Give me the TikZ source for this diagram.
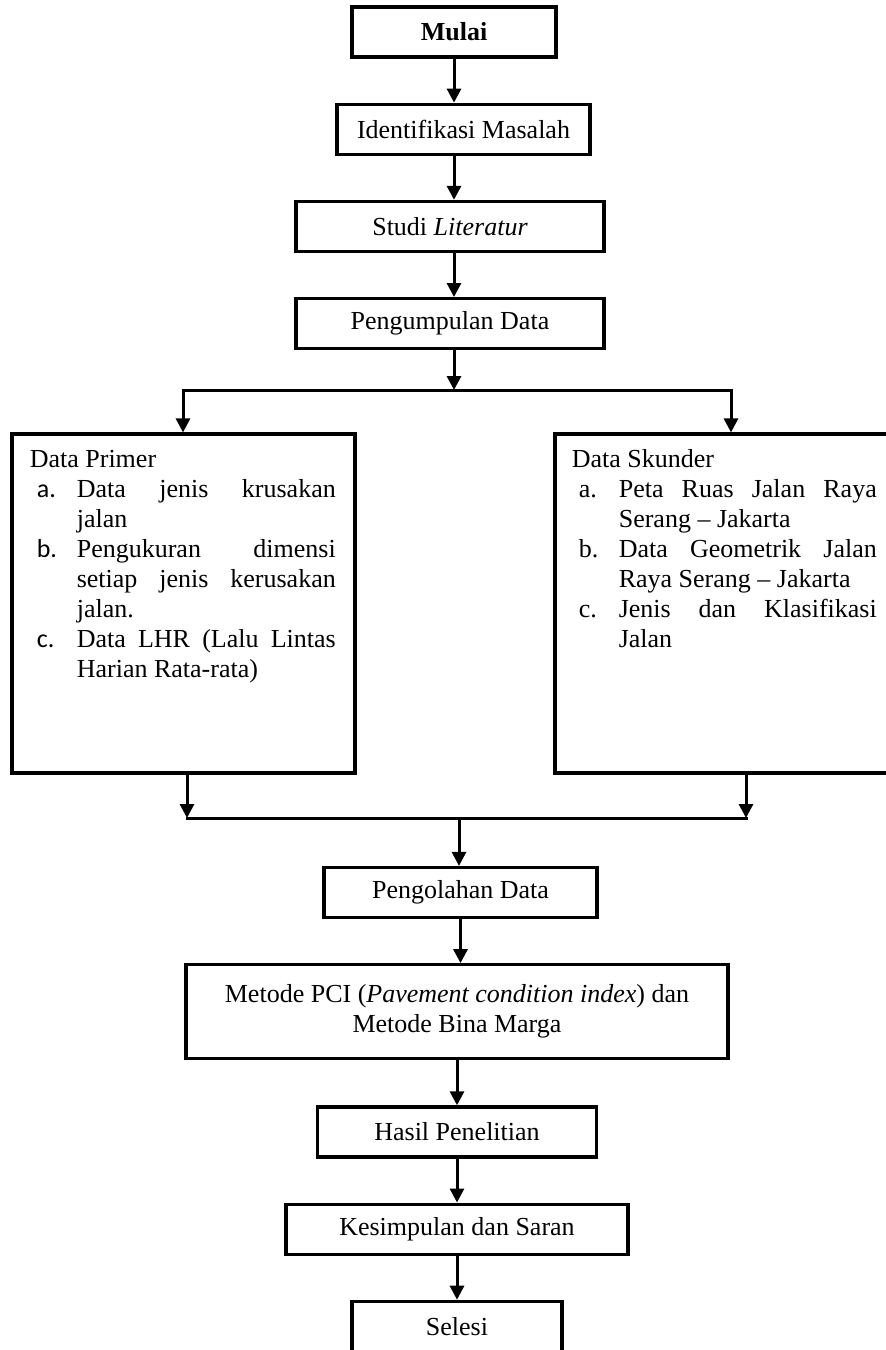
\documentclass[tikz,border=0pt]{standalone}
\usepackage{fontspec}
\setmainfont{Liberation Serif}
\newfontfamily\labelfont{Carlito}
\usepackage{tikz}
\usetikzlibrary{arrows.meta,positioning,calc}

% one list item with hanging indent
\newcommand{\butir}[2]{\par\hangindent=23.5pt\hangafter=1\noindent\hspace*{3.5pt}\makebox[20pt][l]{#1}#2\par}

\begin{document}
\begin{tikzpicture}[
        x=0.5pt, y=-0.5pt,
        box/.style={rectangle, draw, line width=1.6pt, minimum height=25pt, inner sep=2pt, align=center, font=\fontsize{13pt}{15pt}\selectfont},
        bigbox/.style={rectangle, draw, line width=1.6pt, minimum height=169.5pt},
        isi/.style={inner sep=0pt, align=justify, anchor=north west, font=\fontsize{13pt}{15pt}\selectfont},
        arrow/.style={-{Triangle[width=7pt,length=7pt]}, line width=1.5pt},
        line/.style={line width=1.5pt, line cap=rect}
    ]
    \useasboundingbox (0,0) rectangle (885,1350);

    % Start
    \node[box, minimum width=102pt] (mulai) at (454,32) {\textbf{Mulai}};
    \node[box, minimum width=126.5pt, below=22pt of mulai, xshift=4.75pt] (ident) {Identifikasi Masalah};
    \node[box, minimum width=154pt, below=22pt of ident, xshift=-6.75pt] (studi) {Studi \textit{Literatur}};
    \node[box, minimum width=154pt, below=22pt of studi] (kumpul) {Pengumpulan Data};

    % Data boxes
    \node[bigbox, minimum width=171.5pt] (primer) at (183.5,603.5) {};
    \node[isi, text width=153pt] (isiprimer) at ([xshift=9.5pt,yshift=-7pt]primer.north west) {%
        \strut Data Primer\par
        \butir{\labelfont a.}{Data jenis krusakan\linebreak jalan}
        \butir{\labelfont b.}{Pengukuran dimensi\linebreak setiap jenis kerusakan\linebreak jalan.}
        \butir{\labelfont c.}{Data LHR (Lalu Lintas\linebreak Harian Rata-rata)}};

    \node[bigbox, minimum width=167.5pt] (sekunder) at (722.5,603.5) {};
    \node[isi, text width=152.5pt] (isisekunder) at ([xshift=9pt,yshift=-7pt]sekunder.north west) {%
        \strut Data Skunder\par
        \butir{a.}{Peta Ruas Jalan Raya\linebreak Serang -- Jakarta}
        \butir{b.}{Data Geometrik Jalan\linebreak Raya Serang -- Jakarta}
        \butir{c.}{Jenis dan Klasifikasi\linebreak Jalan}};

    % Processing
    \node[box, minimum width=136.5pt] (olah) at (460.5,892.5) {Pengolahan Data};
    \node[box, minimum width=271pt, minimum height=47pt, below=22pt of olah, xshift=-1.75pt] (metode) {Metode PCI (\textit{Pavement condition index}) dan\\Metode Bina Marga};
    \node[box, minimum width=139.5pt, below=22.5pt of metode] (hasil) {Hasil Penelitian};
    \node[box, minimum width=171pt, below=22pt of hasil] (simpul) {Kesimpulan dan Saran};
    \node[box, minimum width=105pt, below=22pt of simpul] (selesi) {Selesi};

    % Branch points
    \coordinate (cabang) at (454,390);
    \coordinate (kiri) at (183,390);
    \coordinate (kanan) at (731,390);
    \coordinate (gabungkiri) at (187,818);
    \coordinate (gabungkanan) at (746,818);
    \coordinate (gabung) at (459,818);

    \draw[arrow] (mulai.south) -- (mulai.south |- ident.north);
    \draw[arrow] (mulai.south |- ident.south) -- (mulai.south |- studi.north);
    \draw[arrow] (mulai.south |- studi.south) -- (mulai.south |- kumpul.north);
    \draw[arrow] (cabang |- kumpul.south) -- (cabang);
    \draw[arrow] (cabang) -- (kiri) -- (kiri |- primer.north);
    \draw[arrow] (cabang) -- (kanan) -- (kanan |- sekunder.north);
    \draw[arrow] (gabungkiri |- primer.south) -- (gabungkiri);
    \draw[arrow] (gabungkanan |- sekunder.south) -- (gabungkanan);
    \draw[line] (gabungkiri) -- (gabungkanan);
    \draw[arrow] (gabung) -- (gabung |- olah.north);
    \draw[arrow] (olah.south) -- (olah.south |- metode.north);
    \draw[arrow] (metode.south) -- (metode.south |- hasil.north);
    \draw[arrow] (hasil.south) -- (hasil.south |- simpul.north);
    \draw[arrow] (simpul.south) -- (simpul.south |- selesi.north);

\end{tikzpicture}
\end{document}
